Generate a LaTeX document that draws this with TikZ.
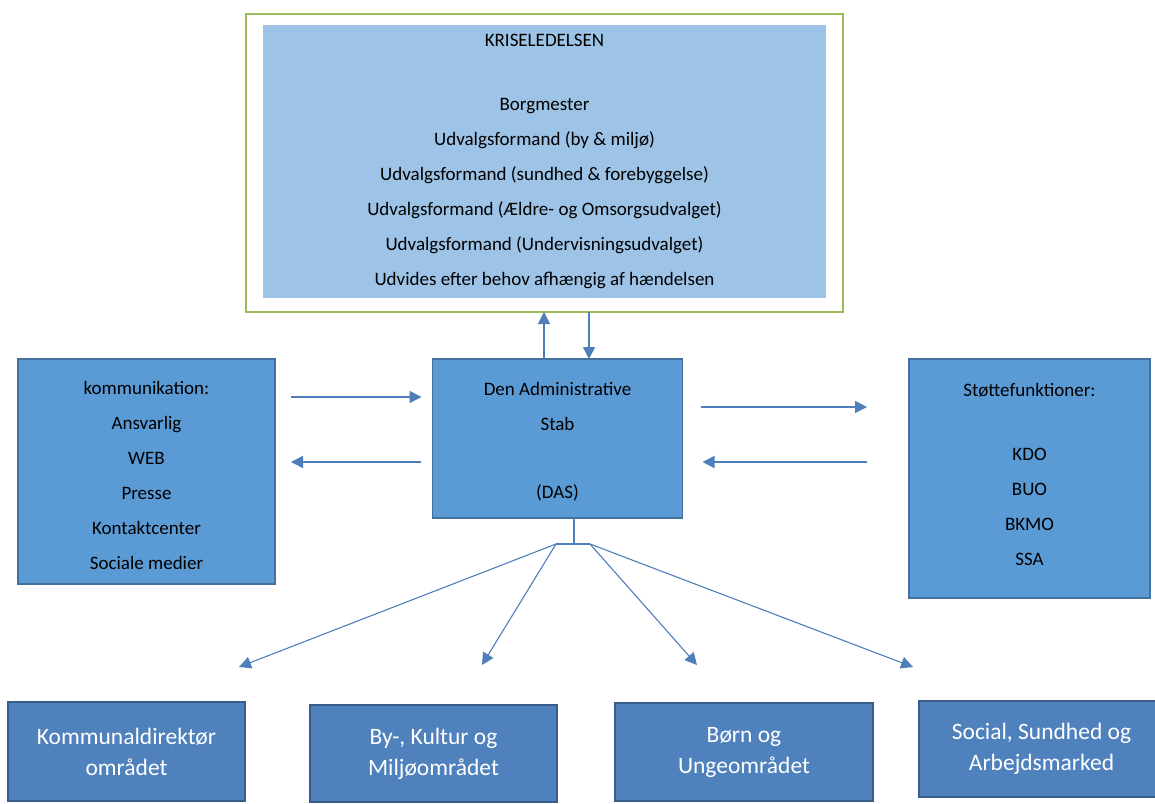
\documentclass[tikz,border=0pt]{standalone}
\usepackage{fontspec}
\setmainfont{Carlito}
\usetikzlibrary{arrows.meta}
\definecolor{framegreen}{HTML}{9BBB59}
\definecolor{paleblue}{HTML}{9DC3E6}
\definecolor{midblue}{HTML}{5B9BD5}
\definecolor{boxline}{HTML}{41719C}
\definecolor{areablue}{HTML}{4F81BD}
\definecolor{areaedge}{HTML}{385D8A}
\definecolor{arrowblue}{HTML}{4F7FBB}
\begin{document}
\begin{tikzpicture}[x=1pt,y=-1pt,
  box/.style={draw=boxline, line width=1.3pt, fill=midblue, inner sep=0pt, outer sep=0pt},
  boxtext/.style={align=center, text=black, inner sep=0pt, font=\fontsize{19}{35}\selectfont},
  area/.style={draw=areaedge, line width=1.6pt, fill=areablue, inner sep=0pt, outer sep=0pt,
    align=center, text=white, font=\fontsize{23.5}{31}\selectfont},
  arr/.style={draw=arrowblue, line width=1.5pt, -{Triangle[length=12pt,width=12pt]}},
  thinarr/.style={draw=arrowblue, line width=1.1pt, -{Triangle[length=12pt,width=12pt]}},
  link/.style={draw=arrowblue, line width=1.1pt}]
\clip (0,0) rectangle (1155,803);
\fill[white] (0,0) rectangle (1155,803);

% crisis management group
\node[draw=framegreen, line width=1.5pt, fill=white, minimum width=597pt, minimum height=298pt,
  inner sep=0pt, outer sep=0pt] (frame) at (544.5,163) {};
\node[fill=paleblue, minimum width=563pt, minimum height=273pt, inner sep=0pt, align=center,
  font=\fontsize{19}{35}\selectfont] (krise) at (544.5,161.5)
  {KRISELEDELSEN\\[29pt]
   Borgmester\\
   Udvalgsformand (by \& miljø)\\
   Udvalgsformand (sundhed \& forebyggelse)\\
   Udvalgsformand (Ældre- og Omsorgsudvalget)\\
   Udvalgsformand (Undervisningsudvalget)\\
   Udvides efter behov afhængig af hændelsen};

% staff and side functions
\node[box, minimum width=250pt, minimum height=159pt] (das) at (557.5,438.5) {};
\node[boxtext] (dastext) at ([yshift=-3pt]das.center)
  {Den Administrative\\ Stab\\[33pt] (DAS)};
\node[box, minimum width=257pt, minimum height=225pt] (komm) at (146.5,471.5) {};
\node[boxtext] (kommtext) at ([yshift=-4pt]komm.center)
  {kommunikation:\\ Ansvarlig\\ WEB\\ Presse\\ Kontaktcenter\\ Sociale medier};
\node[box, minimum width=241pt, minimum height=239pt] (stoette) at (1029.5,478.5) {};
\node[boxtext] (stoettetext) at ([yshift=4.5pt]stoette.center)
  {Støttefunktioner:\\[29pt] KDO\\ BUO\\ BKMO\\ SSA};

% operational areas
\node[area, minimum width=237pt, minimum height=99pt] (kd) at (126.5,751.5)
  {Kommunaldirektør\\ området};
\node[area, minimum width=247pt, minimum height=97pt] (bkm) at (433.5,753.5)
  {By-, Kultur og\\ Miljøområdet};
\node[area, minimum width=258pt, minimum height=98pt] (bu) at (744,752)
  {Børn og\\ Ungeområdet};
\node[area, minimum width=245pt, minimum height=96pt] (ssa) at (1041.5,749)
  {Social, Sundhed og\\ Arbejdsmarked};

% guide coordinates
\coordinate (upx) at (544,0);
\coordinate (downx) at (589,0);
\coordinate (ka) at (0,397);
\coordinate (kb) at (0,462);
\coordinate (sa) at (0,407);
\coordinate (sb) at (0,462);
\coordinate (hub) at (574,544);
\coordinate (hubL) at (556,544);
\coordinate (hubR) at (590,544);
\coordinate (t1) at (239,667);
\coordinate (t2) at (482,665);
\coordinate (t3) at (697,665);
\coordinate (t4) at (913,667);

% vertical links to the crisis group
\draw[arr] (das.north -| upx) -- (frame.south -| upx);
\draw[arr] (frame.south -| downx) -- (das.north -| downx);

% communication links
\draw[arr, shorten <=16pt, shorten >=11pt] (komm.east |- ka) -- (das.west |- ka);
\draw[arr, shorten <=12pt, shorten >=16pt] (das.west |- kb) -- (komm.east |- kb);

% support links
\draw[arr, shorten <=18pt, shorten >=42pt] (das.east |- sa) -- (stoette.west |- sa);
\draw[arr, shorten <=42pt, shorten >=20pt] (stoette.west |- sb) -- (das.east |- sb);

% branching to the areas
\draw[link] (das.south -| hub) -- (hub);
\draw[link] (hubL) -- (hubR);
\draw[thinarr] (hubL) -- (t1);
\draw[thinarr] (hubL) -- (t2);
\draw[thinarr] (hubR) -- (t3);
\draw[thinarr] (hubR) -- (t4);
\end{tikzpicture}
\end{document}
